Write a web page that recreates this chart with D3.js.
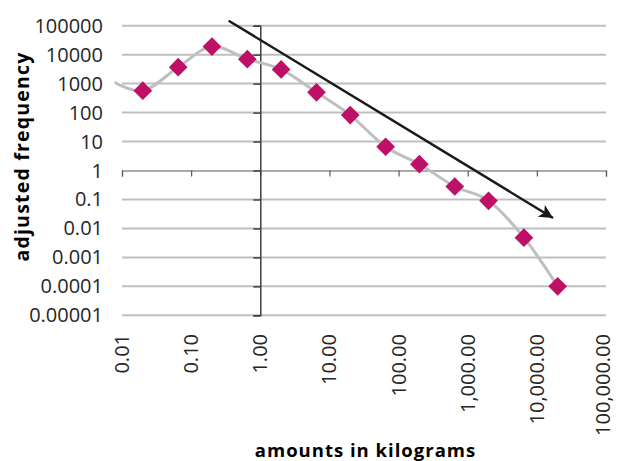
<!DOCTYPE html>
<html>
<head>
<meta charset="utf-8">
<script src="https://cdn.jsdelivr.net/npm/d3@7"></script>
<style>
  html, body { margin: 0; padding: 0; background: #fff; }
  svg { display: block; font-family: "Open Sans", "Noto Sans", sans-serif; }
</style>
</head>
<body>
<svg id="chart" width="617" height="461"></svg>
<script>
// ---- data ----
const amounts = [0.0065, 0.02, 0.065, 0.2, 0.65, 2, 6.5, 20, 65, 200, 650, 2000, 6500, 20000];
const frequency = [1400, 570, 3700, 19000, 7000, 3100, 500, 82, 6.6, 1.65, 0.28, 0.09, 0.0048, 0.0001];
const xTickValues = [0.01, 0.1, 1, 10, 100, 1000, 10000, 100000];
const xTickLabels = ["0.01", "0.10", "1.00", "10.00", "100.00", "1,000.00", "10,000.00", "100,000.00"];
const yTickValues = [100000, 10000, 1000, 100, 10, 1, 0.1, 0.01, 0.001, 0.0001, 0.00001];
const yTickLabels = ["100000", "10000", "1000", "100", "10", "1", "0.1", "0.01", "0.001", "0.0001", "0.00001"];
const trendArrowX = [0.349, 17140];
const trendArrowY = [148900, 0.0229];
const xTitle = "amounts in kilograms";
const yTitle = "adjusted frequency";

// ---- layout ----
const svg = d3.select("#chart");
const x = d3.scaleLog().domain([0.01, 100000]).range([122, 606]);
const y = d3.scaleLog().domain([0.00001, 100000]).range([315.3, 25.7]);

const gridColor = "#bfbfbf";
const textColor = "#262626";

// gridlines
svg.append("g").selectAll("line")
  .data(yTickValues.filter(v => v !== 1))
  .join("line")
  .attr("x1", x(0.01)).attr("x2", x(100000))
  .attr("y1", d => y(d)).attr("y2", d => y(d))
  .attr("stroke", gridColor).attr("stroke-width", 2);

// x axis at y = 1
const xAxis = d3.axisBottom(x).tickValues(xTickValues).tickSize(6).tickFormat(() => "");
const gx = svg.append("g").attr("transform", `translate(0,${y(1)})`).call(xAxis);
gx.select(".domain").attr("stroke", "#595959").attr("stroke-width", 1.2);
gx.selectAll(".tick line").attr("stroke", "#595959").attr("stroke-width", 1.2);

// y axis at x = 1
const yAxis = d3.axisLeft(y).tickValues(yTickValues).tickSize(7).tickFormat(() => "");
const gy = svg.append("g").attr("transform", `translate(${x(1)},0)`).call(yAxis);
gy.select(".domain").attr("stroke", "#404040").attr("stroke-width", 1.5);
gy.selectAll(".tick line").attr("stroke", "#404040").attr("stroke-width", 1.5);

// y tick labels (left side)
svg.append("g").selectAll("text")
  .data(yTickValues)
  .join("text")
  .attr("x", 103).attr("y", d => y(d)).attr("dy", "0.35em")
  .attr("text-anchor", "end")
  .attr("font-size", 20).attr("fill", textColor)
  .text((d, i) => yTickLabels[i]);

// x tick labels (rotated, below plot)
svg.append("g").selectAll("text")
  .data(xTickValues)
  .join("text")
  .attr("transform", d => `translate(${Math.min(x(d), 603)},334) rotate(-90)`)
  .attr("dy", "0.35em")
  .attr("text-anchor", "end")
  .attr("font-size", 20).attr("fill", textColor)
  .text((d, i) => xTickLabels[i]);

// axis titles
svg.append("text")
  .attr("x", 365.5).attr("y", 457)
  .attr("text-anchor", "middle")
  .attr("font-size", 18.5).attr("letter-spacing", 1).attr("font-weight", "bold").attr("fill", "#000")
  .text(xTitle);
svg.append("text")
  .attr("transform", "translate(22,156.5) rotate(-90)")
  .attr("dy", "0.35em")
  .attr("text-anchor", "middle")
  .attr("font-size", 19.5).attr("letter-spacing", 1.2).attr("font-weight", "bold").attr("fill", "#000")
  .text(yTitle);

// clip for series line
svg.append("clipPath").attr("id", "plotclip")
  .append("rect").attr("x", 114.5).attr("y", 0).attr("width", 500).attr("height", 461);

const pts = amounts.map((a, i) => [a, frequency[i]]);
const line = d3.line()
  .x(d => x(d[0])).y(d => y(d[1]))
  .curve(d3.curveCatmullRom.alpha(0));
svg.append("path")
  .datum(pts)
  .attr("clip-path", "url(#plotclip)")
  .attr("d", line)
  .attr("fill", "none")
  .attr("stroke", "#bfbfbf")
  .attr("stroke-width", 3);

// diamond markers (only those inside x domain)
const sym = d3.symbol().type(d3.symbolSquare).size(175);
svg.append("g").selectAll("path")
  .data(pts.filter(d => d[0] >= 0.01 && d[0] <= 100000))
  .join("path")
  .attr("transform", d => `translate(${x(d[0])},${y(d[1])}) rotate(45)`)
  .attr("d", sym)
  .attr("fill", "#be1066");

// trend arrow
const defs = svg.append("defs");
defs.append("marker")
  .attr("id", "arrowhead")
  .attr("viewBox", "0 0 10 10")
  .attr("refX", 10).attr("refY", 5)
  .attr("markerWidth", 6.5).attr("markerHeight", 5.5)
  .attr("markerUnits", "strokeWidth")
  .attr("orient", "auto")
  .append("path").attr("d", "M0,0 L10,5 L0,10 L2.5,5 Z").attr("fill", "#1a1a1a");

svg.append("line")
  .attr("x1", x(trendArrowX[0])).attr("y1", y(trendArrowY[0]))
  .attr("x2", x(trendArrowX[1])).attr("y2", y(trendArrowY[1]))
  .attr("stroke", "#1a1a1a").attr("stroke-width", 2.5)
  .attr("marker-end", "url(#arrowhead)");
</script>
</body>
</html>
